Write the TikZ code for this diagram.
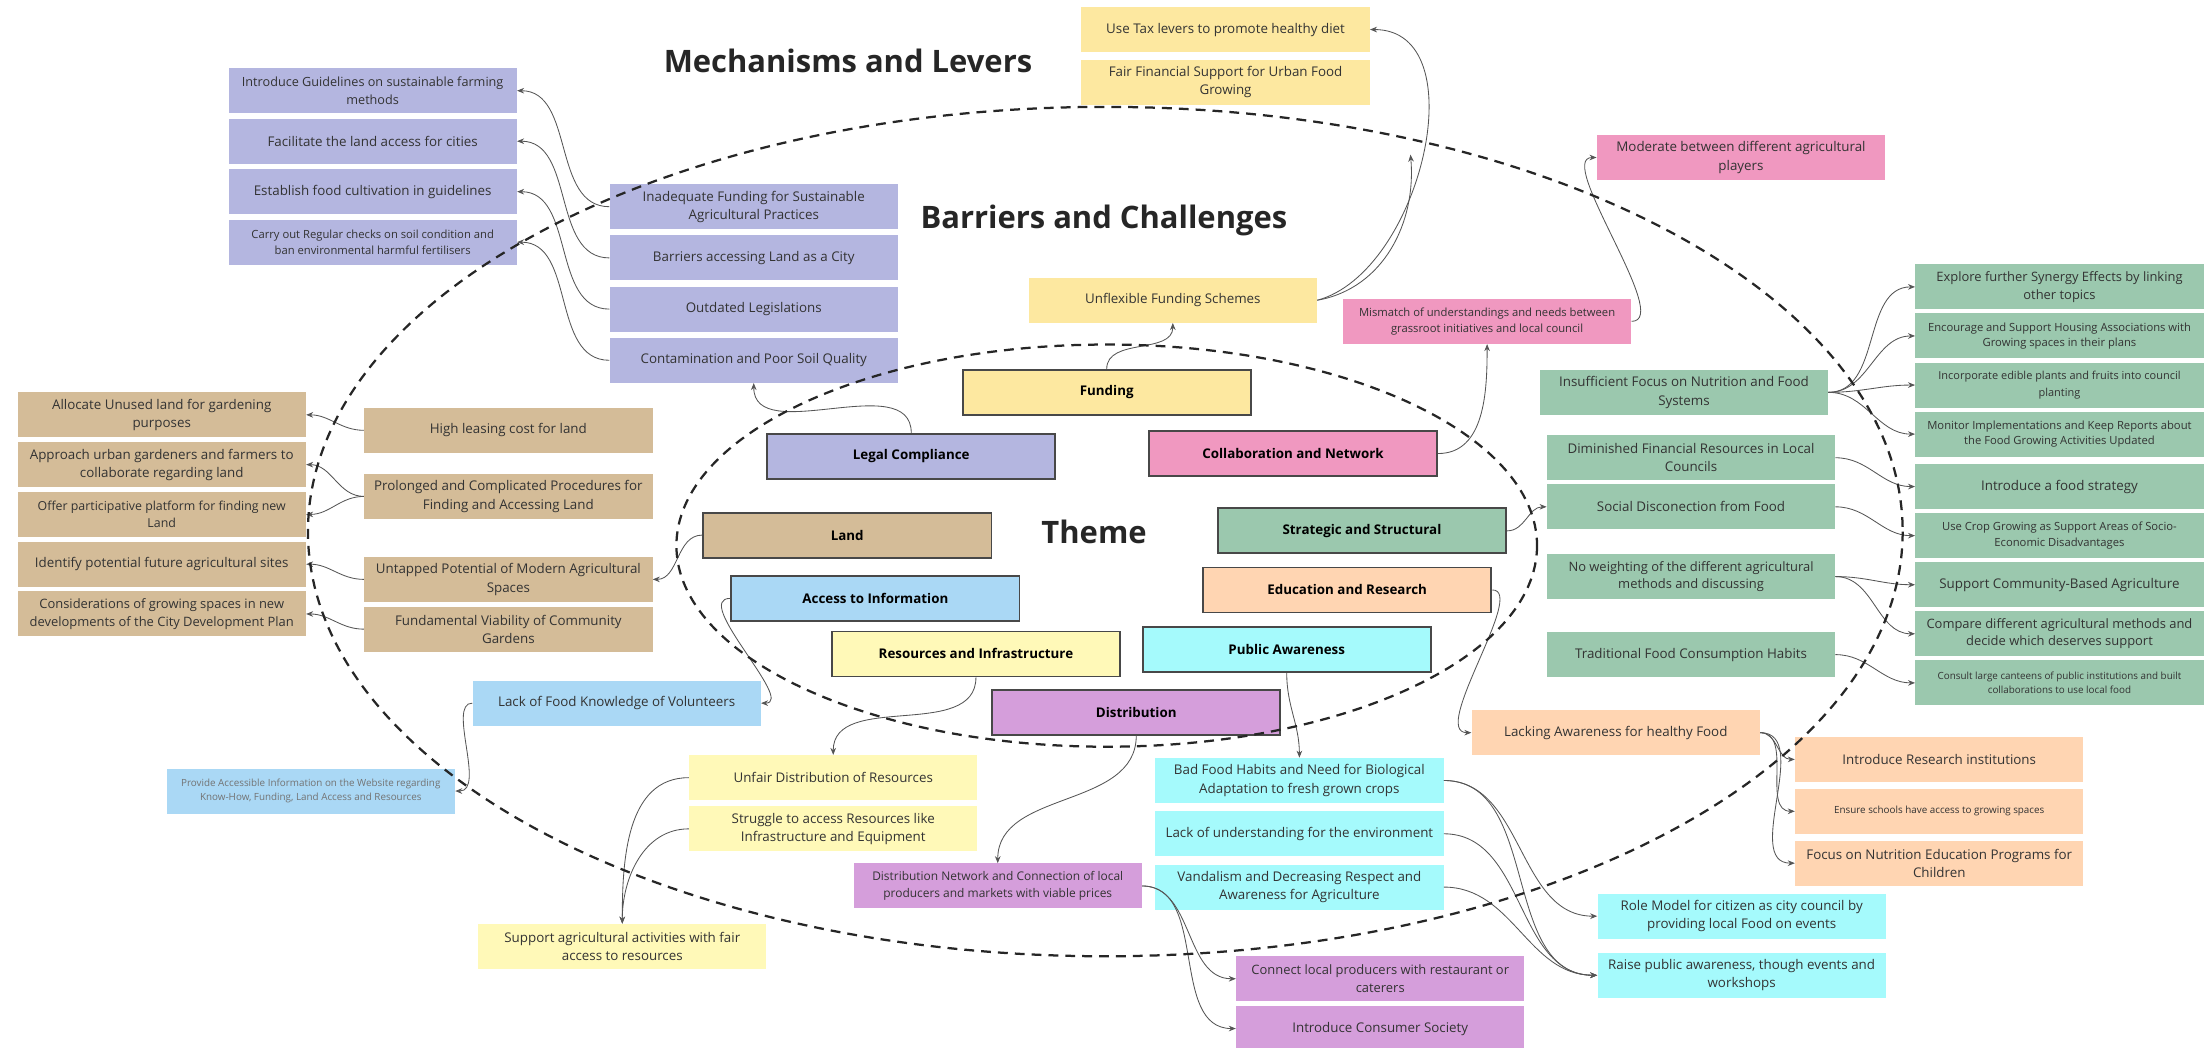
\documentclass[tikz,border=0pt]{standalone}
\usepackage{fontspec}
\setmainfont{Open Sans}
\usetikzlibrary{arrows.meta,
positioning,
calc}

\definecolor{lavender}{RGB}{180,182,224}
\definecolor{butter}{RGB}{253,232,160}
\definecolor{rose}{RGB}{240,152,192}
\definecolor{sage}{RGB}{155,200,174}
\definecolor{sand}{RGB}{212,188,152}
\definecolor{sky}{RGB}{170,216,245}
\definecolor{lemon}{RGB}{255,249,184}
\definecolor{lilac}{RGB}{213,158,219}
\definecolor{aqua}{RGB}{165,250,252}
\definecolor{peach}{RGB}{255,213,178}
\definecolor{inkgray}{RGB}{51,51,51}
\definecolor{wiregray}{RGB}{85,85,85}
\definecolor{framegray}{RGB}{72,72,72}

\newcommand*{\boxfont}{\fontsize{9.5}{13}\selectfont}
\newcommand*{\smallboxfont}{\fontsize{8}{11}\selectfont}
\newcommand*{\tinyboxfont}{\fontsize{7}{10}\selectfont}
\newcommand*{\fitfont}[1]{\fontsize{#1}{12.5}\selectfont}
\newcommand*{\headfont}{\fontsize{22}{25}\selectfont\bfseries}

\begin{document}
\begin{tikzpicture} [x=1pt, y=-1pt,
    >={Stealth[length=5pt, width=4pt]},
    main node/.style={rectangle, minimum width=205pt, minimum height=32pt,
        inner xsep=2pt, inner ysep=1pt, align=center,
        text=inkgray, font=\boxfont},
    small node/.style={main node, font=\smallboxfont},
    tiny node/.style={main node, font=\tinyboxfont},
    theme node/.style={main node, draw=framegray, line width=1.3pt,
        text=black, font=\boxfont\bfseries},
    head/.style={font=\headfont, text=black!85},
    link/.style={->, draw=wiregray, line width=0.6pt},
    ring/.style={draw=black!85, line width=1.6pt, dash pattern=on 7pt off 5pt}]

  \useasboundingbox (0,0) rectangle (1568,745);

  \node [head] (t_mech) at (603,43) {Mechanisms and Levers};
  \node [head] (t_barr) at (785,157) {Barriers and Challenges};
  \node [head] (t_theme) at (778,378) {Theme};

  % themes
  \node [theme node, fill=lavender] (th_legal) at (648,324.5) {Legal Compliance};
  \node [theme node, fill=butter] (th_fund) at (787,279) {Funding};
  \node [theme node, fill=rose] (th_collab) at (919.5,322.5) {Collaboration and Network};
  \node [theme node, fill=sand] (th_land) at (602.5,380.5) {Land};
  \node [theme node, fill=sage] (th_strat) at (968.5,377.5) {Strategic and Structural};
  \node [theme node, fill=sky] (th_info) at (622.5,425.5) {Access to Information};
  \node [theme node, fill=peach] (th_edu) at (958,419.5) {Education and Research};
  \node [theme node, fill=lemon] (th_res) at (694,465) {Resources and Infrastructure};
  \node [theme node, fill=aqua] (th_aware) at (915,462) {Public Awareness};
  \node [theme node, fill=lilac] (th_dist) at (808,506.5) {Distribution};

  % legal compliance
  \node [main node, fill=lavender] (bc_fund) at (536,147) {Inadequate Funding for Sustainable\\Agricultural Practices};
  \node [main node, fill=lavender, below = 4pt of bc_fund] (bc_landcity) {Barriers accessing Land as a City};
  \node [main node, fill=lavender, below = 4pt of bc_landcity] (bc_legis) {Outdated Legislations};
  \node [main node, fill=lavender, below = 4pt of bc_legis] (bc_soil) {Contamination and Poor Soil Quality};

  \node [main node, fill=lavender, font=\fitfont{9}] (lv_guide) at (265,64.5) {Introduce Guidelines on sustainable farming\\methods};
  \node [main node, fill=lavender, below = 3.5pt of lv_guide] (lv_landacc) {Facilitate the land access for cities};
  \node [main node, fill=lavender, below = 3.5pt of lv_landacc] (lv_cultivate) {Establish food cultivation in guidelines};
  \node [small node, fill=lavender, below = 3.5pt of lv_cultivate] (lv_soilcheck) {Carry out Regular checks on soil condition and\\ban environmental harmful fertilisers};

  % funding
  \node [main node, fill=butter] (bc_flex) at (834,213.5) {Unflexible Funding Schemes};
  \node [main node, fill=butter] (lv_tax) at (871.5,21) {Use Tax levers to promote healthy diet};
  \node [main node, fill=butter, below = 5pt of lv_tax] (lv_finance) {Fair Financial Support for Urban Food\\Growing};

  % collaboration
  \node [small node, fill=rose] (bc_mismatch) at (1057.5,228.5) {Mismatch of understandings and needs between\\grassroot initiatives and local council};
  \node [main node, fill=rose] (lv_moderate) at (1238,112) {Moderate between different agricultural\\players};

  % strategic
  \node [main node, fill=sage] (bc_nutri) at (1197.5,279) {Insufficient Focus on Nutrition and Food\\Systems};
  \node [main node, fill=sage] (bc_finance) at (1202.5,325.5) {Diminished Financial Resources in Local\\Councils};
  \node [main node, fill=sage, below = 2.5pt of bc_finance] (bc_social) {Social Disconection from Food};
  \node [main node, fill=sage, font=\fitfont{9.2}] (bc_weight) at (1202.5,410) {No weighting of the different agricultural\\methods and discussing};
  \node [main node, fill=sage] (bc_tradition) at (1202.5,465.5) {Traditional Food Consumption Habits};

  \node [main node, fill=sage, font=\fitfont{9.2}] (lv_synergy) at (1464.5,204) {Explore further Synergy Effects by linking\\other topics};
  \node [small node, fill=sage, below = 2.5pt of lv_synergy] (lv_housing) {Encourage and Support Housing Associations with\\Growing spaces in their plans};
  \node [small node, fill=sage, font=\fitfont{7.8}, below = 2.5pt of lv_housing] (lv_edible) {Incorporate edible plants and fruits into council\\planting};
  \node [small node, fill=sage, below = 2.5pt of lv_edible] (lv_monitor) {Monitor Implementations and Keep Reports about\\the Food Growing Activities Updated};
  \node [main node, fill=sage] (lv_strategy) at (1464.5,346) {Introduce a food strategy};
  \node [small node, fill=sage, below = 2.5pt of lv_strategy] (lv_crop) {Use Crop Growing as Support Areas of Socio-\\Economic Disadvantages};
  \node [main node, fill=sage, below = 2.5pt of lv_crop] (lv_cba) {Support Community-Based Agriculture};
  \node [main node, fill=sage, font=\fitfont{9.2}, below = 2.5pt of lv_cba] (lv_compare) {Compare different agricultural methods and\\decide which deserves support};
  \node [tiny node, fill=sage, below = 2.5pt of lv_compare] (lv_canteen) {Consult large canteens of public institutions and built\\collaborations to use local food};

  % land
  \node [main node, fill=sand] (bc_lease) at (361.5,306) {High leasing cost for land};
  \node [main node, fill=sand] (bc_procedure) at (361.5,353) {Prolonged and Complicated Procedures for\\Finding and Accessing Land};
  \node [main node, fill=sand] (bc_modern) at (361.5,412) {Untapped Potential of Modern Agricultural\\Spaces};
  \node [main node, fill=sand, below = 3pt of bc_modern] (bc_viable) {Fundamental Viability of Community\\Gardens};

  \node [main node, fill=sand] (lv_allocate) at (115,295) {Allocate Unused land for gardening\\purposes};
  \node [main node, fill=sand, below = 3pt of lv_allocate] (lv_approach) {Approach urban gardeners and farmers to\\collaborate regarding land};
  \node [main node, fill=sand, font=\fitfont{8.8}, below = 3pt of lv_approach] (lv_platform) {Offer participative platform for finding new\\Land};
  \node [main node, fill=sand, below = 3pt of lv_platform] (lv_sites) {Identify potential future agricultural sites};
  \node [main node, fill=sand, font=\fitfont{9.2}, below = 3pt of lv_sites] (lv_plan) {Considerations of growing spaces in new\\developments of the City Development Plan};

  % access to information
  \node [main node, fill=sky] (bc_volunteer) at (438.5,500) {Lack of Food Knowledge of Volunteers};
  \node [tiny node, fill=sky, text=black!55] (lv_website) at (221,562.5) {Provide Accessible Information on the Website regarding\\Know-How, Funding, Land Access and Resources};

  % resources
  \node [main node, fill=lemon] (bc_unfair) at (592.5,553) {Unfair Distribution of Resources};
  \node [main node, fill=lemon, below = 4pt of bc_unfair] (bc_struggle) {Struggle to access Resources like\\Infrastructure and Equipment};
  \node [main node, fill=lemon] (lv_fairaccess) at (442.5,673) {Support agricultural activities with fair\\access to resources};

  % distribution
  \node [small node, fill=lilac, font=\fitfont{8.5}] (bc_network) at (709.5,630) {Distribution Network and Connection of local\\producers and markets with viable prices};
  \node [main node, fill=lilac, font=\fitfont{9.2}] (lv_caterer) at (981.5,696) {Connect local producers with restaurant or\\caterers};
  \node [main node, fill=lilac, below = 3pt of lv_caterer] (lv_consumer) {Introduce Consumer Society};

  % public awareness
  \node [main node, fill=aqua] (bc_habits) at (924,555) {Bad Food Habits and Need for Biological\\Adaptation to fresh grown crops};
  \node [main node, fill=aqua, below = 5.5pt of bc_habits] (bc_environment) {Lack of understanding for the environment};
  \node [main node, fill=aqua, below = 5.5pt of bc_environment] (bc_vandal) {Vandalism and Decreasing Respect and\\Awareness for Agriculture};
  \node [main node, fill=aqua] (lv_rolemodel) at (1238.5,651.5) {Role Model for citizen as city council by\\providing local Food on events};
  \node [main node, fill=aqua] (lv_raise) at (1238.5,693.5) {Raise public awareness, though events and\\workshops};

  % education
  \node [main node, fill=peach] (bc_lacking) at (1149,521) {Lacking Awareness for healthy Food};
  \node [main node, fill=peach] (lv_research) at (1379,540) {Introduce Research institutions};
  \node [tiny node, fill=peach, below = 4.5pt of lv_research] (lv_schools) {Ensure schools have access to growing spaces};
  \node [main node, fill=peach, below = 4.5pt of lv_schools] (lv_nutrition) {Focus on Nutrition Education Programs for\\Children};

  % theme -> barrier
  \draw [link] (th_legal.north) to[out=90, in=-90] (bc_soil.south);
  \draw [link] (th_fund.north) to[out=90, in=-90] (bc_flex.south);
  \draw [link] (th_collab.east) to[out=0, in=-90] (bc_mismatch.south);
  \draw [link] (th_strat.east) to[out=0, in=180] (bc_social.west);
  \draw [link] (th_land.west) to[out=180, in=0] (bc_modern.east);
  \draw [link] (th_info.west) .. controls +(-28,0) and +(25,0) .. (bc_volunteer.east);
  \draw [link] (th_res.south) to[out=-90, in=90] (bc_unfair.north);
  \draw [link] (th_dist.south) to[out=-90, in=90] (bc_network.north);
  \draw [link] (th_aware.south) to[out=-90, in=90] (bc_habits.north);
  \draw [link] (th_edu.east) .. controls +(25,0) and +(-30,0) .. (bc_lacking.west);

  % barrier -> lever, leftwards
  \foreach \src/\dst in {bc_fund/lv_guide, bc_landcity/lv_landacc, bc_legis/lv_cultivate,
      bc_soil/lv_soilcheck, bc_lease/lv_allocate, bc_procedure/lv_approach,
      bc_procedure/lv_platform, bc_modern/lv_sites, bc_viable/lv_plan}
    \draw [link] (\src.west) to[out=180, in=0] (\dst.east);

  % barrier -> lever, rightwards
  \foreach \src/\dst in {bc_nutri/lv_synergy, bc_nutri/lv_housing, bc_nutri/lv_edible,
      bc_nutri/lv_monitor, bc_finance/lv_strategy, bc_social/lv_crop, bc_weight/lv_cba,
      bc_weight/lv_compare, bc_tradition/lv_canteen, bc_network/lv_caterer,
      bc_network/lv_consumer, bc_habits/lv_rolemodel, bc_habits/lv_raise,
      bc_environment/lv_raise, bc_vandal/lv_raise, bc_lacking/lv_research,
      bc_lacking/lv_schools, bc_lacking/lv_nutrition}
    \draw [link] (\src.east) to[out=0, in=180] (\dst.west);

  \draw [link] (bc_flex.east) to[out=15, in=0] (lv_tax.east);
  \coordinate (fin_tip) at (1003,110);
  \draw [link] (bc_flex.east) to[out=10, in=-85] (fin_tip);
  \draw [link] (bc_mismatch.east) .. controls +(30,0) and +(-30,0) .. (lv_moderate.west);
  \draw [link] (bc_volunteer.west) .. controls +(-18,0) and +(22,0) .. (lv_website.east);
  \draw [link] (bc_unfair.west) to[out=180, in=90] (lv_fairaccess.north);
  \draw [link] (bc_struggle.west) to[out=180, in=90] (lv_fairaccess.north);

  % dashed rings
  \draw [ring] (786,378) ellipse [x radius=567, y radius=302];
  \draw [ring] (787,388) ellipse [x radius=306, y radius=143];

\end{tikzpicture}
\end{document}
